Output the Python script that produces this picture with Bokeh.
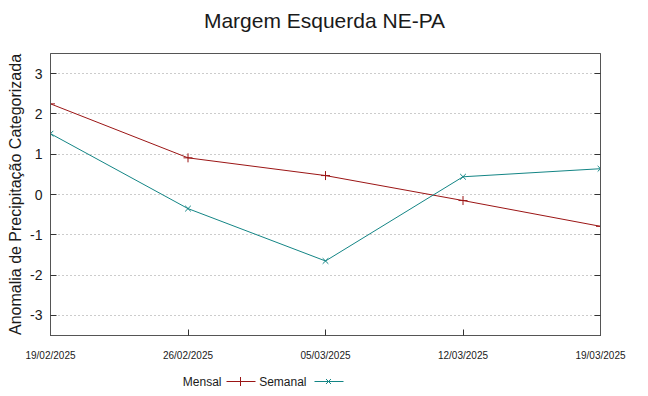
from datetime import datetime
from bokeh.plotting import figure
from bokeh.layouts import column
from bokeh.models import (Range1d, FixedTicker, LinearAxis, DatetimeTickFormatter)
from bokeh.core.properties import value
from bokeh.embed import file_html
from bokeh.resources import INLINE

title_text = "Margem Esquerda NE-PA"
dates = ["19/02/2025", "26/02/2025", "05/03/2025", "12/03/2025", "19/03/2025"]
mensal = [2.25, 0.91, 0.47, -0.15, -0.79]
semanal = [1.51, -0.35, -1.65, 0.44, 0.64]
y_ticks = [-3, -2, -1, 0, 1, 2, 3]
series_names = ["Mensal", "Semanal"]

xs = [datetime.strptime(d, "%d/%m/%Y") for d in dates]
x_ms = [x.timestamp() * 1000 for x in xs]

FONT = "Liberation Sans"
RED = "#9b1515"
TEAL = "#138585"
TXT = "#1a1a1a"


def strip(h):
    # the column aligns this strip's frame with the main frame (x 50..600)
    f = figure(width=640, height=h, output_backend="svg", toolbar_location=None,
               x_range=Range1d(50, 600), y_range=Range1d(h, 0),
               x_axis_location=None, y_axis_location=None,
               min_border_left=50, min_border_right=40, min_border_top=0,
               min_border_bottom=0, outline_line_color=None)
    f.grid.visible = False
    return f


# title strip
tt = strip(36)
tt.text(x=[324], y=[20], text=[title_text], text_align="center",
        text_baseline="middle", text_font=value(FONT), text_font_size="21px",
        text_color=TXT)

p = figure(width=640, height=329, output_backend="svg", toolbar_location=None,
           x_axis_type="datetime",
           x_range=Range1d(xs[0], xs[-1]), y_range=Range1d(-3.5, 3.5),
           min_border_left=50, min_border_right=40, min_border_top=17,
           min_border_bottom=30)

p.outline_line_color = "#555555"
p.outline_line_width = 1

xa = p.xaxis[0]
xa.ticker = FixedTicker(ticks=x_ms)
xa.formatter = DatetimeTickFormatter(days="%d/%m/%Y", months="%d/%m/%Y", years="%d/%m/%Y")
xa.major_tick_in = 6
xa.major_tick_out = 0
xa.minor_tick_line_color = None
xa.major_label_text_font = FONT
xa.major_label_text_font_size = "10px"
xa.major_label_text_color = TXT
xa.major_label_standoff = 14
xa.axis_line_color = "#555555"
xa.major_tick_line_color = "#333333"

ya = p.yaxis[0]
ya.ticker = FixedTicker(ticks=y_ticks)
ya.major_label_overrides = {t: str(t) for t in y_ticks}
ya.major_tick_in = 6
ya.major_tick_out = 0
ya.minor_tick_line_color = None
ya.major_label_text_font = FONT
ya.major_label_text_font_size = "14px"
ya.major_label_text_color = TXT
ya.major_label_standoff = 8
ya.axis_label = "Anomalia de Precipitação Categorizada"
ya.axis_label_text_font = FONT
ya.axis_label_text_font_size = "16px"
ya.axis_label_text_font_style = "normal"
ya.axis_label_text_color = TXT
ya.axis_label_standoff = 3
ya.axis_line_color = "#555555"
ya.major_tick_line_color = "#333333"

ra = LinearAxis(ticker=FixedTicker(ticks=y_ticks), major_label_text_alpha=0,
                major_tick_in=6, major_tick_out=0, minor_tick_line_color=None,
                axis_line_color="#555555", major_tick_line_color="#333333",
                major_label_standoff=0)
p.add_layout(ra, "right")

p.xgrid.grid_line_color = None
p.ygrid.ticker = FixedTicker(ticks=y_ticks)
p.ygrid.grid_line_color = "#999999"
p.ygrid.grid_line_dash = "1 3"
p.ygrid.grid_line_width = 1

p.line(xs, mensal, line_color=RED, line_width=1)
p.scatter(xs, mensal, marker="cross", size=9, line_color=RED, line_width=1)
p.line(xs, semanal, line_color=TEAL, line_width=1)
p.scatter(xs, semanal, marker="x", size=8, line_color=TEAL, line_width=1)

# legend strip (label before sample, as in the reference)
lg = strip(23)
lg.text(x=[221, 306], y=[16, 16], text=series_names, text_align="right",
        text_baseline="middle", text_font=value(FONT), text_font_size="12px",
        text_color=TXT)
lg.segment(x0=[226], y0=[16], x1=[255], y1=[16], line_color=RED, line_width=1)
lg.scatter(x=[240], y=[16], marker="cross", size=9, line_color=RED)
lg.segment(x0=[314], y0=[16], x1=[343], y1=[16], line_color=TEAL, line_width=1)
lg.scatter(x=[328], y=[16], marker="x", size=7, line_color=TEAL)

layout = column(tt, p, lg, spacing=0)
open("out.html", "w").write(file_html(layout, INLINE))
